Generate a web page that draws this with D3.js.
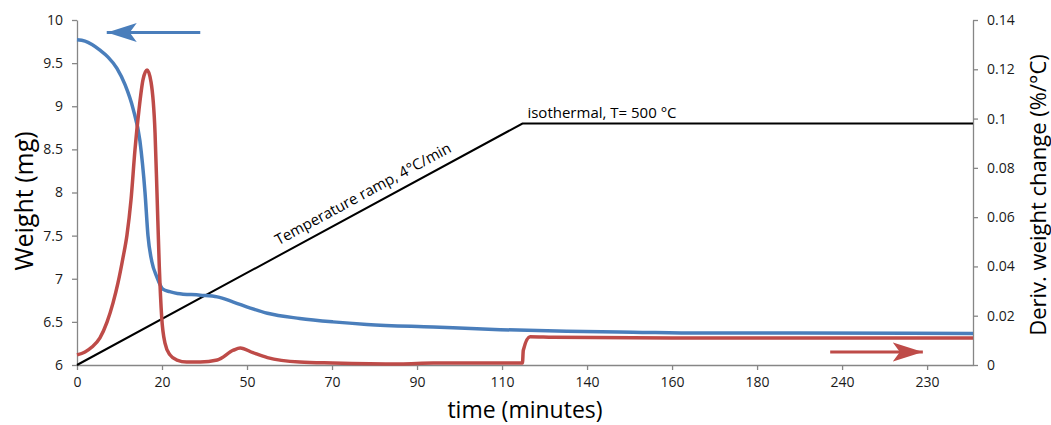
<!DOCTYPE html>
<html>
<head>
<meta charset="utf-8">
<script src="https://cdn.jsdelivr.net/npm/d3@7"></script>
<style>
  body { margin: 0; background: #fff; }
  svg text { font-family: "Open Sans", sans-serif; }
</style>
</head>
<body>
<div class="chart"></div>
<script>
// x positions are in tick-label slots (0 = first label "0", 10 = last label "230")
var xTickLabels = ["0", "20", "50", "70", "90", "110", "140", "160", "180", "240", "230"];
var xMax = 10.54;

var weightTicks = [6, 6.5, 7, 7.5, 8, 8.5, 9, 9.5, 10];
var derivTicks = [0, 0.02, 0.04, 0.06, 0.08, 0.1, 0.12, 0.14];

// weight (mg), left axis
var weightX = [0, 0.094, 0.176, 0.27, 0.365, 0.47, 0.565, 0.66, 0.74, 0.80, 0.835, 0.88, 0.94, 1.01, 1.09, 1.18,
  1.45, 1.65, 1.84, 2.04, 2.24, 2.62, 3.01, 3.41, 4.19, 4.98, 5.76, 6.54, 7.33, 8.5, 10.54];
var weightY = [9.77, 9.755, 9.715, 9.65, 9.57, 9.44, 9.25, 8.97, 8.6, 8.0, 7.5, 7.2, 7.02, 6.88, 6.85, 6.83,
  6.81, 6.79, 6.73, 6.66, 6.60, 6.54, 6.50, 6.47, 6.44, 6.41, 6.39, 6.38, 6.37, 6.37, 6.365];

// derivative weight change (%/°C), right axis
var derivX = [0, 0.094, 0.176, 0.27, 0.353, 0.424, 0.482, 0.541, 0.588, 0.635, 0.682, 0.729, 0.776, 0.824,
  0.871, 0.918, 0.941, 0.968, 0.996, 1.035, 1.094, 1.176, 1.29, 1.45, 1.65, 1.84, 1.92, 2.07, 2.24, 2.62,
  3.01, 3.8, 4.19, 4.98, 5.24, 5.25, 5.33, 5.6, 7, 10.54];
var derivY = [0.0041, 0.0053, 0.0073, 0.011, 0.0174, 0.0252, 0.0333, 0.0435, 0.0528, 0.0669, 0.0873, 0.1035,
  0.1157, 0.1197, 0.1148, 0.0942, 0.0698, 0.040, 0.0195, 0.0089, 0.0041, 0.002, 0.0012, 0.0012, 0.002,
  0.006, 0.0069, 0.005, 0.003, 0.0012, 0.0008, 0.0004, 0.0008, 0.0008, 0.0008, 0.006, 0.0115, 0.0113,
  0.011, 0.011];

// temperature programme, drawn against the right axis
var tempX = [0, 5.24, 10.54];
var tempY = [0, 0.098, 0.098];

function init() {
  var w = 1051;
  var h = 425;
  var left = 77, right = 973, top = 20, bottom = 365;
  var blue = "#4a7ebb";
  var red = "#be4b48";
  var axisGray = "#868686";

  var xScale = d3.scaleLinear().domain([0, xMax]).range([left, right]);
  var yLeft = d3.scaleLinear().domain([6, 10]).range([bottom, top]);
  var yRight = d3.scaleLinear().domain([0, 0.14]).range([bottom, top]);

  var svg = d3.select(".chart")
    .append("svg")
    .attr("width", w)
    .attr("height", h);

  var defs = svg.append("defs");
  [["arrowBlue", blue], ["arrowRed", red]].forEach(function(m) {
    defs.append("marker")
      .attr("id", m[0])
      .attr("markerUnits", "userSpaceOnUse")
      .attr("viewBox", "0 -10 30 20")
      .attr("refX", 30)
      .attr("refY", 0)
      .attr("markerWidth", 30)
      .attr("markerHeight", 20)
      .attr("orient", "auto")
      .append("path")
      .attr("d", "M0,-9.5L30,0L0,9.5L7,0Z")
      .attr("fill", m[1]);
  });

  // axes
  var xAxis = d3.axisBottom(xScale)
    .tickValues(d3.range(xTickLabels.length))
    .tickFormat(function(d) { return xTickLabels[d]; })
    .tickSize(5)
    .tickSizeOuter(0)
    .tickPadding(7);

  var leftAxis = d3.axisLeft(yLeft)
    .tickValues(weightTicks)
    .tickFormat(function(d) { return d; })
    .tickSize(5)
    .tickSizeOuter(0)
    .tickPadding(9);

  var rightAxis = d3.axisRight(yRight)
    .tickValues(derivTicks)
    .tickFormat(function(d) { return d; })
    .tickSize(5)
    .tickSizeOuter(0)
    .tickPadding(9);

  var gx = svg.append("g")
    .attr("transform", "translate(0," + bottom + ")")
    .call(xAxis);
  var gl = svg.append("g")
    .attr("transform", "translate(" + left + ",0)")
    .call(leftAxis);
  var gr = svg.append("g")
    .attr("transform", "translate(" + right + ",0)")
    .call(rightAxis);

  [gx, gl, gr].forEach(function(g) {
    g.select(".domain").attr("stroke", axisGray).attr("stroke-width", 1.3);
    g.selectAll(".tick line").attr("stroke", axisGray).attr("stroke-width", 1.3);
    g.selectAll(".tick text")
      .attr("fill", "#1a1a1a")
      .attr("font-size", "14px")
      .attr("font-family", "Open Sans, sans-serif");
  });

  // series
  var tempLine = d3.line()
    .x(function(d) { return xScale(d[0]); })
    .y(function(d) { return yRight(d[1]); });

  svg.append("path")
    .datum(d3.zip(tempX, tempY))
    .attr("d", tempLine)
    .attr("fill", "none")
    .attr("stroke", "#000")
    .attr("stroke-width", 2);

  var weightLine = d3.line()
    .x(function(d) { return xScale(d[0]); })
    .y(function(d) { return yLeft(d[1]); })
    .curve(d3.curveMonotoneX);

  svg.append("path")
    .datum(d3.zip(weightX, weightY))
    .attr("d", weightLine)
    .attr("fill", "none")
    .attr("stroke", blue)
    .attr("stroke-width", 3.5);

  var derivLine = d3.line()
    .x(function(d) { return xScale(d[0]); })
    .y(function(d) { return yRight(d[1]); })
    .curve(d3.curveMonotoneX);

  svg.append("path")
    .datum(d3.zip(derivX, derivY))
    .attr("d", derivLine)
    .attr("fill", "none")
    .attr("stroke", red)
    .attr("stroke-width", 3.5);

  // arrows pointing to each series' axis
  svg.append("line")
    .attr("x1", xScale(1.45)).attr("x2", xScale(0.35))
    .attr("y1", yLeft(9.855)).attr("y2", yLeft(9.855))
    .attr("stroke", blue)
    .attr("stroke-width", 3)
    .attr("marker-end", "url(#arrowBlue)");

  svg.append("line")
    .attr("x1", xScale(8.86)).attr("x2", xScale(9.95))
    .attr("y1", yRight(0.0053)).attr("y2", yRight(0.0053))
    .attr("stroke", red)
    .attr("stroke-width", 3)
    .attr("marker-end", "url(#arrowRed)");

  // annotations on the temperature line
  var tempAt = d3.scaleLinear().domain(tempX).range(tempY);
  var angle = Math.atan2(yRight(tempY[1]) - yRight(tempY[0]), xScale(tempX[1]) - xScale(tempX[0])) * 180 / Math.PI;
  var rampPos = 2.42;

  svg.append("text")
    .attr("transform", "translate(" + xScale(rampPos) + "," + yRight(tempAt(rampPos)) + ") rotate(" + angle + ")")
    .attr("dy", -9)
    .attr("font-size", "15px")
    .attr("fill", "#000")
    .text("Temperature ramp, 4°C/min");

  svg.append("text")
    .attr("x", xScale(tempX[1]) + 5)
    .attr("y", yRight(tempY[1]) - 6)
    .attr("font-size", "15px")
    .attr("fill", "#000")
    .text("isothermal, T= 500 °C");

  // axis titles
  svg.append("text")
    .attr("x", (left + right) / 2)
    .attr("y", 418)
    .attr("text-anchor", "middle")
    .attr("font-size", "23px")
    .attr("fill", "#000")
    .text("time (minutes)");

  svg.append("text")
    .attr("transform", "translate(33,201) rotate(-90)")
    .attr("text-anchor", "middle")
    .attr("font-size", "25px")
    .attr("fill", "#000")
    .text("Weight (mg)");

  svg.append("text")
    .attr("transform", "translate(1046,195) rotate(-90)")
    .attr("text-anchor", "middle")
    .attr("font-size", "22px")
    .attr("fill", "#000")
    .text("Deriv. weight change (%/°C)");
}

window.onload = init;
</script>
</body>
</html>
